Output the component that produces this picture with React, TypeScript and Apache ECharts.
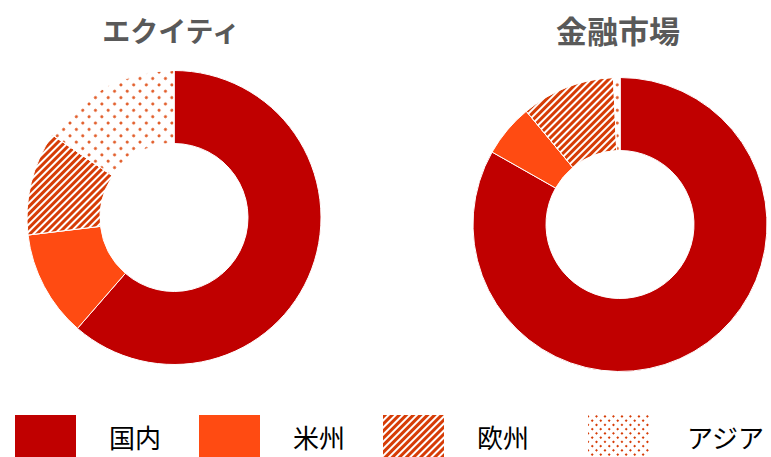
import React, { useEffect, useRef } from "react";
import * as echarts from "echarts";

const categories = ["国内", "米州", "欧州", "アジア"];
const equityValues = [61.4, 11.7, 11.4, 15.5];
const marketValues = [83.2, 5.8, 10.3, 0.7];
const titles = ["エクイティ", "金融市場"];

const RED = "#C00000";
const ORANGE = "#FF4B12";
const PAT = "#D63C06";

const hatchDecal = {
  symbol: "rect",
  symbolSize: 1,
  color: PAT,
  backgroundColor: "#ffffff",
  dashArrayX: [1, 0],
  dashArrayY: [2.3, 1.4],
  rotation: -Math.PI / 4,
};
const dotDecalPie = {
  symbol: "circle",
  symbolSize: 1,
  color: "#E0551F",
  backgroundColor: "#ffffff",
  dashArrayX: [2.6, 5.2],
  dashArrayY: [2.6, 5.2],
  rotation: Math.PI / 4,
};
const dotDecalLegend = {
  symbol: "rect",
  symbolSize: 1,
  color: PAT,
  backgroundColor: "#ffffff",
  dashArrayX: [2, 3.9],
  dashArrayY: [2, 3.9],
  rotation: Math.PI / 4,
};

function itemStyleFor(i: number) {
  if (i === 0) return { color: RED };
  if (i === 1) return { color: ORANGE };
  if (i === 2) return { color: "#ffffff", decal: hatchDecal };
  return { color: "#ffffff", decal: dotDecalPie };
}

function pieData(values: number[]) {
  return values.map((v, i) => ({
    name: categories[i],
    value: v,
    itemStyle: itemStyleFor(i),
  }));
}

const legendLefts = [15, 199, 383, 588];

export default function App() {
  const ref = useRef<HTMLDivElement>(null);
  useEffect(() => {
    if (!ref.current) return;
    const chart = echarts.init(ref.current, null, { renderer: "svg" });
    const pieCommon = {
      type: "pie",
      radius: [74, 147],
      startAngle: 90,
      clockwise: true,
      label: { show: false },
      labelLine: { show: false },
      emphasis: { disabled: true },
      itemStyle: { borderColor: "#ffffff", borderWidth: 1 },
      silent: true,
    };
    const titleStyle = {
      fontFamily: "Noto Sans CJK JP",
      fontSize: 29,
      fontWeight: "bold",
      color: "#595959",
    };
    chart.setOption({
      animation: false,
      backgroundColor: "#ffffff",
      title: [
        { text: titles[0], left: 166, top: 11, textAlign: "center", textStyle: { ...titleStyle, fontSize: 28 } },
        { text: titles[1], left: 613, top: 9, textAlign: "center", textStyle: { ...titleStyle, fontSize: 31 } },
      ],
      legend: categories.map((c, i) => ({
        data: [
          {
            name: c,
            icon: "rect",
            itemStyle:
              i === 3
                ? { color: "#ffffff", decal: dotDecalLegend, borderWidth: 0 }
                : { borderWidth: 0 },
          },
        ],
        left: legendLefts[i],
        top: 415,
        padding: 0,
        itemWidth: 61,
        itemHeight: 42,
        selectedMode: false,
        textStyle: {
          fontFamily: "Noto Sans CJK JP",
          fontSize: 26,
          color: "#000000",
          padding: [0, 0, 0, i === 3 ? 33 : 28],
        },
      })),
      series: [
        { ...pieCommon, name: titles[0], center: [174, 217.5], data: pieData(equityValues) },
        { ...pieCommon, name: titles[1], center: [620, 224.5], data: pieData(marketValues) },
      ],
    });
    return () => chart.dispose();
  }, []);
  return (
    <div
      ref={ref}
      style={{ position: "fixed", left: 0, top: 0, width: 771, height: 457 }}
    />
  );
}
